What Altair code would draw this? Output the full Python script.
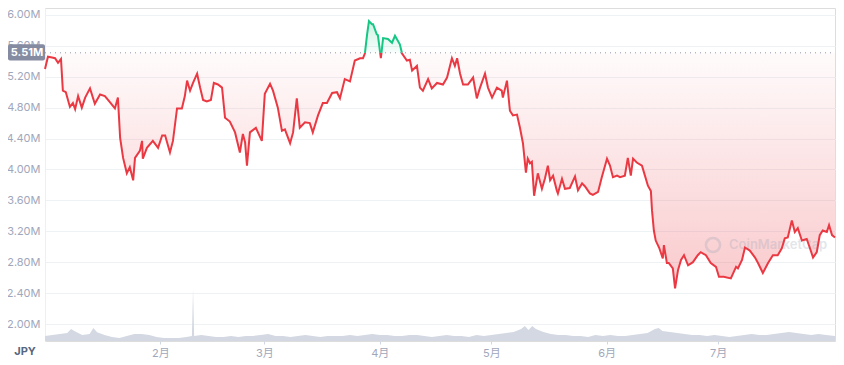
import json
import altair as alt
import pandas as pd

# ---------------- data ----------------
# days since 2022-01-01 00:00 UTC, price in million JPY
day_offsets = [0, 0.8, 1.9, 2.7, 3.5, 4.3, 4.8, 5.6, 6.7, 7.5, 8.1, 8.9, 9.9, 10.8, 12.1, 13.4, 14.8, 16.1,
               17.5, 18.8, 19.6, 20.2, 21.0, 22.0, 22.8, 23.7, 24.2, 25.5, 26.1, 26.3, 27.4, 29.0, 30.4,
               31.5, 32.3, 33.6, 34.4, 35.5, 36.8, 37.6, 38.2, 39.0, 39.8, 40.9, 41.7, 42.5, 43.5, 44.6,
               45.4, 46.5, 47.6, 48.4, 49.7, 51.1, 52.4, 53.2, 53.8, 54.3, 55.1, 56.7, 58.3, 59.1, 60.5,
               61.3, 62.6, 63.7, 64.5, 65.9, 66.7, 67.7, 68.5, 69.9, 71.2, 72.0, 73.4, 74.7, 75.8, 77.2,
               78.5, 79.3, 80.6, 82.0, 83.3, 84.7, 85.5, 86.0, 86.6, 87.1, 87.9, 88.2, 89.2, 89.5, 90.3,
               90.9, 92.2, 93.3, 94.1, 95.4, 96.0, 97.3, 98.1, 98.7, 100.0, 100.8, 101.6, 103.0, 104.0,
               105.4, 107.0, 108.1, 109.4, 110.2, 110.8, 111.6, 112.4, 113.7, 115.1, 116.1, 116.9, 118.3,
               119.1, 120.2, 121.5, 122.8, 123.1, 124.2, 125.0, 125.8, 126.9, 127.7, 128.5, 129.3, 129.8,
               130.4, 130.9, 131.5, 132.5, 133.6, 134.4, 135.2, 135.8, 136.6, 137.6, 137.9, 139.0, 139.8,
               141.1, 142.5, 143.3, 144.4, 145.2, 146.5, 147.3, 148.7, 149.7, 151.1, 151.9, 152.7, 153.8,
               154.6, 155.9, 156.7, 157.5, 158.1, 159.1, 160.5, 161.3, 162.1, 162.9, 163.2, 163.7, 164.2,
               165.1, 166.1, 166.4, 167.2, 167.7, 168.8, 169.4, 170.2, 171.0, 171.8, 172.9, 174.2, 175.5,
               176.3, 177.7, 179.0, 180.4, 181.2, 182.5, 184.4, 185.8, 186.3, 187.4, 188.2, 189.5, 190.9,
               191.7, 193.0, 194.4, 195.7, 197.0, 198.1, 198.9, 199.7, 200.8, 201.6, 202.4, 203.5, 204.8,
               205.6, 206.5, 207.5, 208.3, 209.1, 210.2, 210.8, 211.6, 212.4]
price_m = [5.30, 5.46, 5.45, 5.44, 5.38, 5.43, 5.02, 5.00, 4.81, 4.86, 4.78, 4.95, 4.80, 4.93, 5.05, 4.85, 4.97, 4.95,
           4.87, 4.79, 4.93, 4.41, 4.15, 3.95, 4.03, 3.86, 4.15, 4.24, 4.37, 4.14, 4.28, 4.37, 4.28,
           4.44, 4.44, 4.22, 4.37, 4.79, 4.79, 4.95, 5.15, 5.02, 5.12, 5.24, 5.06, 4.90, 4.88, 4.90,
           5.12, 5.10, 5.06, 4.67, 4.62, 4.48, 4.22, 4.46, 4.35, 4.05, 4.48, 4.54, 4.37, 4.98, 5.11,
           5.02, 4.80, 4.50, 4.52, 4.34, 4.48, 4.92, 4.54, 4.61, 4.60, 4.48, 4.70, 4.86, 4.86, 4.99,
           5.00, 4.92, 5.17, 5.14, 5.41, 5.44, 5.44, 5.50, 5.75, 5.92, 5.88, 5.88, 5.75, 5.74, 5.44,
           5.70, 5.69, 5.64, 5.73, 5.62, 5.50, 5.41, 5.42, 5.28, 5.34, 5.06, 5.02, 5.17, 5.05,
           5.12, 5.10, 5.19, 5.44, 5.34, 5.44, 5.24, 5.10, 5.10, 5.19, 4.92, 5.05, 5.24,
           5.06, 4.93, 5.06, 5.02, 4.93, 5.15, 4.76, 4.70, 4.71, 4.54, 4.34, 3.96, 4.14,
           4.08, 4.10, 3.66, 3.95, 3.75, 3.88, 4.05, 3.86, 3.92, 3.73, 3.69, 3.88, 3.75,
           3.76, 3.91, 3.73, 3.82, 3.78, 3.69, 3.67, 3.71, 3.90, 4.14, 4.05, 3.90, 3.92,
           3.90, 3.92, 4.15, 3.92, 4.14, 4.09, 4.05, 3.92, 3.79, 3.72, 3.47, 3.21, 3.08,
           2.99, 2.85, 3.02, 2.79, 2.79, 2.72, 2.46, 2.70, 2.83, 2.89, 2.76, 2.80, 2.89,
           2.93, 2.89, 2.79, 2.74, 2.61, 2.61, 2.59, 2.74, 2.72, 2.83, 2.99, 2.95, 2.86,
           2.79, 2.66, 2.79, 2.89, 2.89, 2.98, 3.11, 3.12, 3.34, 3.19, 3.24, 3.08, 3.10,
           2.99, 2.86, 2.93, 3.15, 3.21, 3.19, 3.28, 3.15, 3.12]

# volume (trillion JPY, approximate)
vol_days = [0, 2, 4, 6, 7, 8, 10, 12, 13, 14, 16, 18, 20, 22, 24, 26, 28, 30, 32, 34, 36, 38, 39.5, 39.8, 40.1,
            42, 44, 46, 48, 50, 52, 54, 56, 58, 60, 62, 64, 66, 68, 70, 72, 74, 76, 78, 80, 82, 84, 86,
            88, 90, 92, 94, 96, 98, 100, 102, 104, 106, 108, 110, 112, 114, 116, 118, 120, 122, 124,
            126, 128, 129, 130, 131, 132, 134, 136, 138, 140, 142, 144, 146, 148, 150, 152, 154, 156,
            158, 160, 162, 164, 165, 166, 168, 170, 172, 174, 176, 178, 180, 182, 184, 186, 188, 190,
            192, 194, 196, 198, 200, 202, 204, 206, 208, 210, 212.4]
vol_tjpy = [2.9, 3.4, 4.0, 4.6, 6.8, 5.5, 3.4, 4.0, 7.4, 5.0, 3.4, 2.3, 1.7, 2.9, 4.0, 4.0, 3.4, 2.3, 1.7, 1.7,
            1.7, 2.3, 2.9, 29.6, 2.9,
            3.4, 2.9, 2.3, 2.3, 2.9, 2.3, 2.9, 2.9, 3.4, 4.0, 2.9, 2.9, 2.3, 2.9, 3.4, 2.9, 2.3, 2.9, 2.9,
            2.9, 3.4, 2.9, 3.4, 4.0, 3.4, 3.4, 2.9, 2.9, 3.4, 3.4, 2.9, 2.3, 2.9, 3.4, 2.9, 2.9, 2.3, 3.4,
            2.9, 3.4, 4.0, 4.6, 5.1, 6.8, 8.5, 6.3, 8.5, 6.8, 5.1, 4.0, 3.4, 3.4, 2.9, 2.9, 2.3, 3.4, 2.9,
            3.4, 2.9, 2.9, 3.4, 4.0, 4.6, 6.8, 7.4, 5.7, 5.1, 4.6, 4.0, 3.4, 3.4, 2.9, 3.4, 2.9, 2.3, 2.9,
            3.4, 4.0, 3.4, 3.4, 4.0, 4.6, 5.1, 4.6, 4.0, 3.4, 4.0, 3.4, 2.9]

month_labels = ["2月", "3月", "4月", "5月", "6月", "7月"]
month_numbers = [2, 3, 4, 5, 6, 7]
ytick_m = [2.0, 2.4, 2.8, 3.2, 3.6, 4.0, 4.4, 4.8, 5.2, 5.6, 6.0]
base_m = 5.51
currency = "JPY"
watermark = "CoinMarketCap"

RED = "#ea3943"
GREEN = "#16c784"
LABEL = "#a1a7bb"

START = pd.Timestamp("2022-01-01")


def iso(d):
    return (START + pd.Timedelta(days=d)).strftime("%Y-%m-%dT%H:%M:%SZ")


# split the price line where it crosses the reference level
rows = []
seg = 0
for i, (d, v) in enumerate(zip(day_offsets, price_m)):
    side = "up" if v >= base_m else "down"
    if i > 0:
        d0, v0 = day_offsets[i - 1], price_m[i - 1]
        side0 = "up" if v0 >= base_m else "down"
        if side != side0:
            t = (base_m - v0) / (v - v0)
            dc = d0 + t * (d - d0)
            rows.append((dc, base_m, seg, side0))
            seg += 1
            rows.append((dc, base_m, seg, side))
    rows.append((d, v, seg, side))

price = pd.DataFrame(rows, columns=["d", "v", "seg", "side"])
price["t"] = [iso(d) for d in price["d"]]
price["base"] = base_m
price["lo"] = price["v"].clip(upper=base_m)
price["hi"] = price["v"].clip(lower=base_m)

vol = pd.DataFrame({"t": [iso(d) for d in vol_days], "vol": vol_tjpy})

x_scale = alt.Scale(type="utc",
                    domain=[alt.DateTime(year=2022, month=1, date=1, utc=True),
                            alt.DateTime(year=2022, month=8, date=1, hours=9, minutes=36, utc=True)])
x_axis = alt.Axis(values=[alt.DateTime(year=2022, month=m, date=1, utc=True) for m in month_numbers],
                  labelExpr=json.dumps(month_labels, ensure_ascii=False) + "[utcmonth(datum.value) - 1]",
                  grid=False, domain=False, ticks=True, tickSize=3, tickColor="#cfd6e4",
                  labelPadding=3, labelColor=LABEL, labelFontSize=11,
                  labelFont="Inter, Noto Sans CJK JP")
X = alt.X("t:T", scale=x_scale, axis=x_axis, title=None)

y_scale = alt.Scale(domain=[1.78, 6.09], nice=False, zero=False)
y_axis = alt.Axis(values=ytick_m, labelExpr="format(datum.value, '.2f') + 'M'",
                  grid=True, gridColor="#eff2f5", domain=True, domainColor="#eceff4",
                  ticks=False, labelPadding=5, labelColor=LABEL, labelFontSize=11, labelFont="Inter")


def Y(field):
    return alt.Y(field, type="quantitative", scale=y_scale, axis=y_axis, title=None)


red_grad = {"gradient": "linear", "x1": 0, "x2": 0, "y1": 0, "y2": 1,
            "stops": [{"offset": 0, "color": "rgba(234,57,67,0.02)"},
                      {"offset": 0.4, "color": "rgba(234,57,67,0.12)"},
                      {"offset": 1, "color": "rgba(234,57,67,0.27)"}]}
green_grad = {"gradient": "linear", "x1": 0, "x2": 0, "y1": 0, "y2": 1,
              "stops": [{"offset": 0, "color": "rgba(22,199,132,0.22)"},
                        {"offset": 1, "color": "rgba(22,199,132,0.03)"}]}

base = alt.Chart(price)

red_area = base.mark_area(color=red_grad, interpolate="linear").encode(x=X, y=Y("lo"), y2="base")
green_area = base.mark_area(color=green_grad, interpolate="linear").encode(x=X, y=Y("hi"), y2="base")

ref_df = pd.DataFrame({"v": [base_m], "top": [base_m + 0.11], "bot": [base_m - 0.1],
                       "label": [f"{base_m:.2f}M"]})
ref_rule = alt.Chart(ref_df).mark_rule(color="#8f98ab", strokeDash=[1, 4], strokeWidth=1).encode(
    y=Y("v"), x=alt.value(0), x2=alt.value(790))

line = base.mark_line(strokeWidth=2, interpolate="linear").encode(
    x=X, y=Y("v"),
    color=alt.Color("side:N", scale=alt.Scale(domain=["up", "down"], range=[GREEN, RED]), legend=None),
    detail="seg:N")

ref_box = alt.Chart(ref_df).mark_rect(color="#858ca2", cornerRadius=2).encode(
    y=Y("top"), y2="bot", x=alt.value(-37), x2=alt.value(0))
ref_text = alt.Chart(ref_df).mark_text(color="white", fontWeight="bold", fontSize=11, font="Inter",
                                       align="center", baseline="middle").encode(
    y=Y("v"), x=alt.value(-18), text="label:N")

misc_df = pd.DataFrame({"cur": [currency], "wm": [watermark]})
jpy_text = alt.Chart(misc_df).mark_text(color="#58667e", fontWeight="bold", fontSize=11, font="Inter",
                                        align="center", baseline="middle").encode(
    x=alt.value(-20), y=alt.value(344), text="cur:N")
wm_text = alt.Chart(misc_df).mark_text(color="#9aa3b5", opacity=0.28, fontWeight=600, fontSize=13,
                                       font="Inter", align="left", baseline="middle").encode(
    x=alt.value(684), y=alt.value(237), text="wm:N")
wm_logo = alt.Chart(misc_df).mark_point(shape="circle", size=200, filled=False, strokeWidth=2.5,
                                        color="#9aa3b5", opacity=0.28).encode(
    x=alt.value(668), y=alt.value(237))

price_group = alt.layer(red_area, green_area, wm_logo, wm_text, ref_rule, line, ref_box, ref_text, jpy_text)

volume = alt.Chart(vol).mark_area(color="#d3d8e2", interpolate="linear").encode(
    x=X, y=alt.Y("vol:Q", scale=alt.Scale(domain=[0, 190]), axis=None, title=None))

chart = alt.layer(volume, price_group).resolve_scale(y="independent").properties(
    width=790, height=333, autosize="none",
    padding={"left": 37, "right": 1, "top": 0, "bottom": 17},
    background="white",
).configure_view(strokeWidth=0).configure(font="Inter")

chart.save("out.html", embed_options={"renderer": "svg", "actions": False})
